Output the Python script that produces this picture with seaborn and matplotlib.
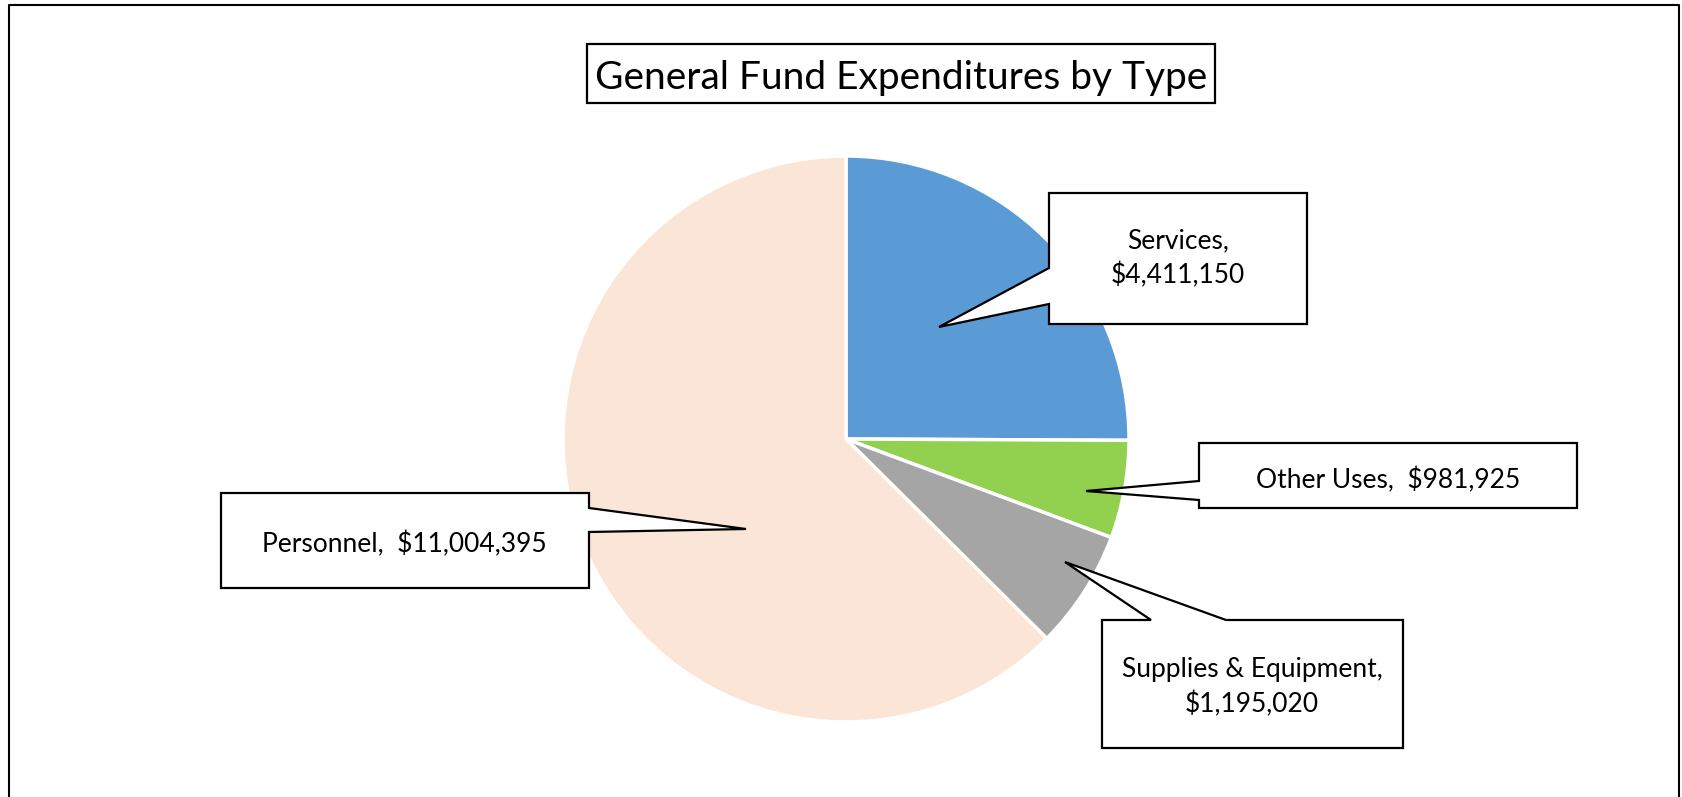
import matplotlib
matplotlib.use("Agg")
import matplotlib.pyplot as plt
import seaborn as sns
from matplotlib.patches import Polygon

sns.set_theme(style="white")
plt.rcParams['font.family'] = ['Lato', 'DejaVu Sans']

# data (clockwise from 12 o'clock)
categories = ["Services", "Other Uses", "Supplies & Equipment", "Personnel"]
values = [4411150, 981925, 1195020, 11004395]
colors = ["#5B9BD5", "#92D050", "#A5A5A5", "#FBE5D6"]
label_text = ["Services,\n${:,}", "Other Uses,  ${:,}", "Supplies & Equipment,\n${:,}", "Personnel,  ${:,}"]

W, H = 1682, 797
fig = plt.figure(figsize=(W / 100, H / 100), dpi=100)
ax = fig.add_axes([0, 0, 1, 1])
ax.set_xlim(0, W)
ax.set_ylim(0, H)
ax.set_aspect("equal")
ax.axis("off")

def fy(y):
    # pixel row (from top) -> data y
    return H - y

# pie
ax.pie(values, colors=colors, startangle=90, counterclock=False,
       center=(846, fy(439)), radius=283,
       wedgeprops=dict(edgecolor="white", linewidth=2.5))
ax.set_xlim(0, W)
ax.set_ylim(0, H)

# callout shapes (box + pointer), pixel coords
callouts = [
    [(1049, 193), (1307, 193), (1307, 324), (1049, 324), (1049, 304), (939, 327), (1049, 268)],
    [(1199, 443), (1577, 443), (1577, 508), (1199, 508), (1199, 500), (1086, 491), (1199, 481)],
    [(1102, 620), (1151, 620), (1065, 562), (1226, 620), (1403, 620), (1403, 748), (1102, 748)],
    [(221, 493), (589, 493), (589, 508), (746, 529), (589, 532), (589, 588), (221, 588)],
]
text_pos = [(1178, 258), (1388, 480), (1252, 687), (404, 544)]

for pts, (tx, ty), fmt, v in zip(callouts, text_pos, label_text, values):
    poly = Polygon([(x, fy(y)) for x, y in pts], closed=True, facecolor="white",
                   edgecolor="black", linewidth=1.6, joinstyle="miter", zorder=5)
    ax.add_patch(poly)
    ax.text(tx, fy(ty), fmt.format(v), ha="center", va="center", fontsize=19,
            linespacing=1.4, color="black", zorder=6)

# title box
ax.add_patch(Polygon([(587, fy(44)), (1215, fy(44)), (1215, fy(103)), (587, fy(103))],
                     closed=True, facecolor="white", edgecolor="black", linewidth=1.6, zorder=5))
ax.text(901, fy(78), "General Fund Expenditures by Type", ha="center", va="center",
        fontsize=28, color="black", zorder=6)

# outer chart frame (bottom edge is cropped)
ax.plot([9, 9, 1679, 1679], [fy(820), fy(5), fy(5), fy(820)], color="black", linewidth=1.5,
        clip_on=False)

fig.savefig("out.png", dpi=100)
